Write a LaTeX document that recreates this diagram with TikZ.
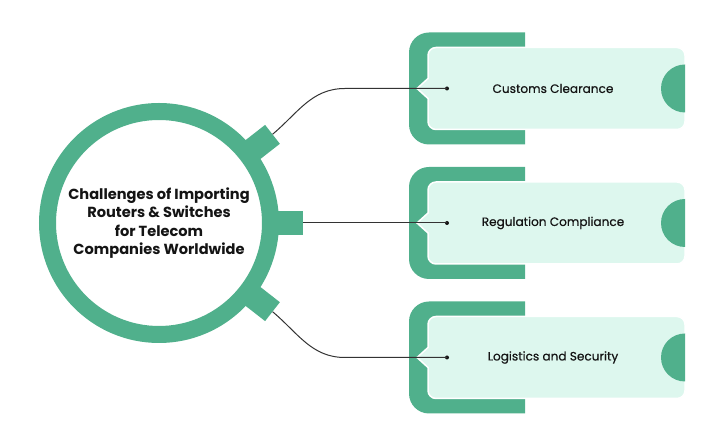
\documentclass[tikz,border=0pt]{standalone}
\usepackage{fontspec}
\setmainfont{Poppins}
\newfontfamily\medfont{Poppins}[FakeBold=0.5]
\usepackage{tikz}
\usetikzlibrary{positioning, calc}
\definecolor{ringgreen}{HTML}{50B08C}
\definecolor{paleteal}{HTML}{DDF7EE}
\definecolor{inktext}{HTML}{141414}
\tikzstyle{hub} = [circle, draw=ringgreen, line width=17pt, fill=white,
    minimum size=223pt, inner sep=0pt, align=center, text=inktext,
    font=\bfseries\fontsize{14.6}{18.6}\selectfont]
\tikzstyle{ringtab} = [rectangle, fill=ringgreen, minimum width=26pt,
    minimum height=24pt, inner sep=0pt]
\tikzstyle{itemtext} = [text=inktext, font=\medfont\fontsize{12.1}{14}\selectfont]
\tikzstyle{wiredot} = [circle, fill=inktext, inner sep=0pt, minimum size=4pt]
\tikzstyle{wire} = [draw=black!80, line width=1pt]

\begin{document}
\begin{tikzpicture}[x=1pt, y=1pt]
  \useasboundingbox (0,0) rectangle (728,433);

  % Cards: bracket, light panel with notch, half disc
  \foreach \cy in {344.5, 210, 75.5}{
    \fill[ringgreen] (525,\cy+56) -- (429,\cy+56)
      arc[start angle=90, end angle=180, radius=20] -- (409,\cy-36)
      arc[start angle=180, end angle=270, radius=20] -- (525,\cy-56) -- cycle;
    \filldraw[fill=paleteal, draw=white, line width=1.5pt] (417,\cy) -- (428,\cy+10)
      -- (428,\cy+33) arc[start angle=180, end angle=90, radius=8] -- (677,\cy+41)
      arc[start angle=90, end angle=0, radius=8] -- (685,\cy-33)
      arc[start angle=0, end angle=-90, radius=8] -- (436,\cy-41)
      arc[start angle=-90, end angle=-180, radius=8] -- (428,\cy-10) -- cycle;
    \fill[ringgreen] (685,\cy+24) arc[start angle=90, end angle=270, radius=24] -- cycle;
  }

  % Hub
  \node[hub] (hub) at (159,210) {Challenges of Importing\\Routers \& Switches\\
    for Telecom\\Companies Worldwide};
  \node[ringtab, rotate=38] (tabA) at ($(hub.center)+(38:131)$) {};
  \node[ringtab] (tabB) at ($(hub.center)+(0:131)$) {};
  \node[ringtab, rotate=-38] (tabC) at ($(hub.center)+(-38:131)$) {};

  % Labels
  \node[itemtext] (cc) at (553,344.5) {Customs Clearance};
  \node[itemtext] (rc) at (553,210) {Regulation Compliance};
  \node[itemtext] (ls) at (553,75.5) {Logistics and Security};
  \node[wiredot] (dotA) at (447,344.5) {};
  \node[wiredot] (dotB) at (447,210) {};
  \node[wiredot] (dotC) at (447,75.5) {};
  \coordinate (bendA) at (345,344.5);
  \coordinate (bendC) at (345,75.5);

  % Wires
  \draw[wire] (tabA.east) to[out=40, in=180] (bendA) -- (dotA.center);
  \draw[wire] (tabB.east) -- (dotB.center);
  \draw[wire] (tabC.east) to[out=-40, in=180] (bendC) -- (dotC.center);
\end{tikzpicture}
\end{document}
